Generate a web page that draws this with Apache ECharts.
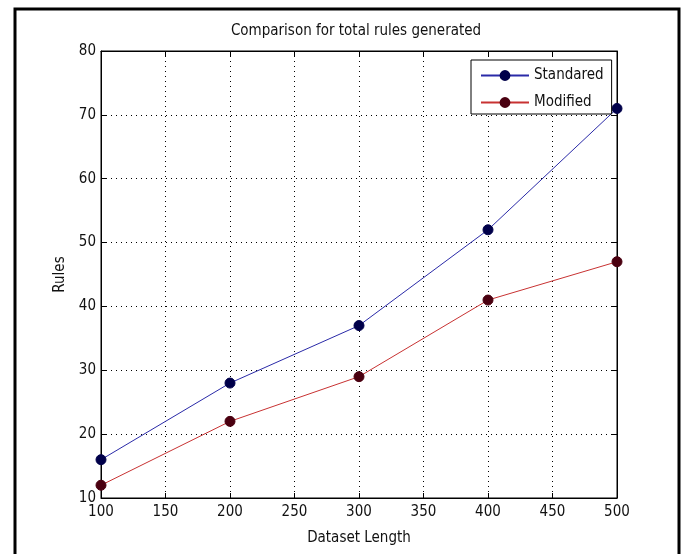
<!DOCTYPE html>
<html>
<head>
<meta charset="utf-8">
<script src="https://cdn.jsdelivr.net/npm/echarts@6/dist/echarts.min.js"></script>
<style>
html,body{margin:0;padding:0;background:#fff;}
#chart{width:682px;height:554px;}
</style>
</head>
<body>
<div id="chart"></div>
<script>
var datasetLength = [100, 200, 300, 400, 500];
var standaredRules = [16, 28, 37, 52, 71];
var modifiedRules = [12, 22, 29, 41, 47];
var xTicks = [100, 150, 200, 250, 300, 350, 400, 450, 500];
var yTicks = [10, 20, 30, 40, 50, 60, 70, 80];

var FONT = '"DejaVu Sans Condensed", "Liberation Sans", Arial, sans-serif';
var FS = 15;
var chart = echarts.init(document.getElementById('chart'), null, {renderer: 'canvas'});

function pairs(xs, ys) { return xs.map(function (x, i) { return [x, ys[i]]; }); }

var tickCommon = {show: true, inside: true, length: 5, lineStyle: {color: '#000', width: 1}};
var option = {
  backgroundColor: '#fff',
  animation: false,
  title: {
    text: 'Comparison for total rules generated',
    left: 356, top: 24, textAlign: 'center', padding: 0,
    textStyle: {fontFamily: FONT, fontSize: FS, fontWeight: 'normal', color: '#111'}
  },
  legend: {
    orient: 'vertical',
    left: 471, top: 60,
    padding: [8, 8, 4, 9],
    itemWidth: 48, itemHeight: 11, itemGap: 12,
    backgroundColor: '#fff',
    borderColor: '#000', borderWidth: 1, borderRadius: 0,
    textStyle: {fontFamily: FONT, fontSize: FS, color: '#111'},
    data: ['Standared', 'Modified']
  },
  grid: {left: 101, top: 51, width: 516, height: 447, show: true, borderColor: '#000', borderWidth: 1, containLabel: false},
  xAxis: [{
    type: 'value', min: xTicks[0], max: xTicks[xTicks.length - 1], interval: 50,
    name: 'Dataset Length', nameLocation: 'middle', nameGap: 33,
    nameTextStyle: {fontFamily: FONT, fontSize: FS, color: '#111'},
    axisLine: {show: true, lineStyle: {color: '#000', width: 1}},
    axisTick: tickCommon,
    axisLabel: {fontFamily: FONT, fontSize: FS, color: '#111', margin: 7},
    splitLine: {show: true, lineStyle: {color: '#000', type: [1, 4], width: 1}}
  }, {
    type: 'value', position: 'top', min: xTicks[0], max: xTicks[xTicks.length - 1], interval: 50,
    axisLine: {show: true, lineStyle: {color: '#000'}},
    axisTick: tickCommon, axisLabel: {show: false}, splitLine: {show: false}
  }],
  yAxis: [{
    type: 'value', min: yTicks[0], max: yTicks[yTicks.length - 1], interval: 10,
    name: 'Rules', nameLocation: 'middle', nameGap: 25,
    nameTextStyle: {fontFamily: FONT, fontSize: FS, color: '#111'},
    axisLine: {show: true, lineStyle: {color: '#000', width: 1}},
    axisTick: tickCommon,
    axisLabel: {fontFamily: FONT, fontSize: FS, color: '#111', margin: 5},
    splitLine: {show: true, lineStyle: {color: '#000', type: [1, 4], width: 1}}
  }, {
    type: 'value', position: 'right', min: yTicks[0], max: yTicks[yTicks.length - 1], interval: 10,
    axisLine: {show: true, lineStyle: {color: '#000'}},
    axisTick: tickCommon, axisLabel: {show: false}, splitLine: {show: false}
  }],
  graphic: [{
    type: 'rect', silent: true, z: 100,
    shape: {x: 15, y: 9, width: 664, height: 580},
    style: {fill: 'none', stroke: '#000', lineWidth: 3}
  }],
  series: [{
    name: 'Standared', type: 'line', xAxisIndex: 0, yAxisIndex: 0,
    data: pairs(datasetLength, standaredRules),
    symbol: 'circle', symbolSize: 10, showAllSymbol: true,
    lineStyle: {color: '#2a2aa8', width: 1},
    itemStyle: {color: '#00004a', borderColor: '#00004a', borderWidth: 1},
    emphasis: {disabled: true}, z: 3
  }, {
    name: 'Modified', type: 'line', xAxisIndex: 0, yAxisIndex: 0,
    data: pairs(datasetLength, modifiedRules),
    symbol: 'circle', symbolSize: 10, showAllSymbol: true,
    lineStyle: {color: '#c83232', width: 1},
    itemStyle: {color: '#4a0010', borderColor: '#4a0010', borderWidth: 1},
    emphasis: {disabled: true}, z: 3
  }]
};
chart.setOption(option);
</script>
</body>
</html>
